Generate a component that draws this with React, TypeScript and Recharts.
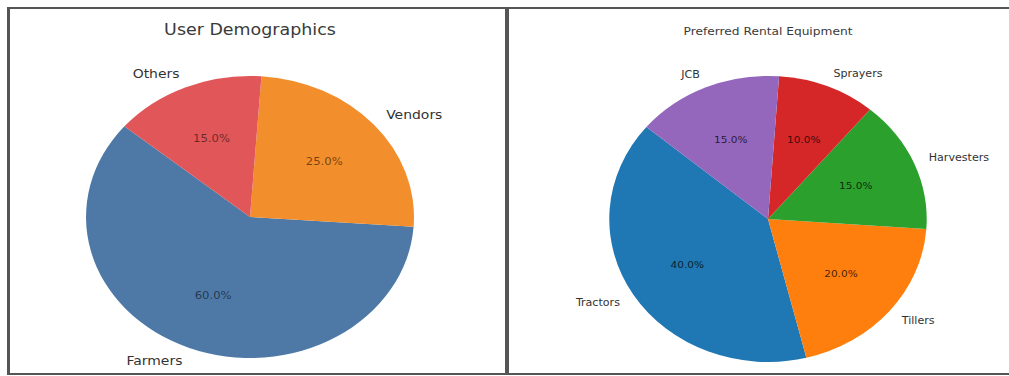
import React from 'react';
import { PieChart, Pie, Cell } from 'recharts';

const userLabels = ['Farmers', 'Vendors', 'Others'];
const userValues = [60, 25, 15];
const userColors = ['#4e79a7', '#f28e2b', '#e15759'];

const equipLabels = ['Tractors', 'Tillers', 'Harvesters', 'Sprayers', 'JCB'];
const equipValues = [40, 20, 15, 10, 15];
const equipColors = ['#1f77b4', '#ff7f0e', '#2ca02c', '#d62728', '#9467bd'];

const RADIAN = Math.PI / 180;
const FONT = '"DejaVu Sans", sans-serif';

type PanelProps = {
  labels: string[];
  values: number[];
  colors: string[];
  left: number;
  top: number;
  width: number;
  height: number;
  cx: number;
  cy: number;
  r: number;
  sx: number;
  title: string;
  titleY: number;
  titleSize: number;
  labelSize: number;
  pctSize: number;
  pctColor: string;
};

const PiePanel: React.FC<PanelProps> = ({
  labels, values, colors, left, top, width, height,
  cx, cy, r, sx, title, titleY, titleSize, labelSize, pctSize, pctColor,
}) => {
  const data = labels.map((name, i) => ({ name, value: values[i] }));
  const total = values.reduce((a, b) => a + b, 0);

  // matplotlib style: name at 1.1 r, percent at 0.6 r
  const renderLabel = (p: any) => {
    const a = -p.midAngle * RADIAN;
    const lx = cx + r * 1.1 * Math.cos(a);
    const ly = cy + r * 1.1 * Math.sin(a);
    const px = cx + r * 0.6 * Math.cos(a);
    const py = cy + r * 0.6 * Math.sin(a);
    return (
      <g>
        <text x={lx} y={ly} textAnchor={Math.cos(a) >= 0 ? 'start' : 'end'}
          dominantBaseline="central" fontSize={labelSize} fill="#333" fontFamily={FONT}>
          {p.name}
        </text>
        <text x={px} y={py} textAnchor="middle" dominantBaseline="central"
          fontSize={pctSize} fill={pctColor} fontFamily={FONT}>
          {((p.value / total) * 100).toFixed(1)}%
        </text>
      </g>
    );
  };

  return (
    <div style={{ position: 'absolute', left, top, width, height }}>
      <div style={{
        position: 'absolute', left: cx - 200, width: 400, top: titleY - titleSize * 0.6,
        textAlign: 'center', fontSize: titleSize, color: '#3a3a3a', lineHeight: 1.2,
        transform: `scaleX(${sx})`, fontFamily: FONT,
      }}>
        {title}
      </div>
      <div style={{
        position: 'absolute', left: 0, top: 0,
        transform: `scaleX(${sx})`, transformOrigin: `${cx}px ${cy}px`,
      }}>
        <PieChart width={width} height={height} margin={{ top: 0, right: 0, bottom: 0, left: 0 }}>
          <Pie
            data={data}
            dataKey="value"
            nameKey="name"
            cx={cx}
            cy={cy}
            outerRadius={r}
            startAngle={140}
            endAngle={500}
            stroke="none"
            label={renderLabel}
            labelLine={false}
            isAnimationActive={false}
          >
            {data.map((d, i) => <Cell key={d.name} fill={colors[i]} />)}
          </Pie>
        </PieChart>
      </div>
    </div>
  );
};

export default function App() {
  return (
    <div style={{ position: 'relative', width: 1009, height: 376, overflow: 'hidden', background: '#fff' }}>
      <style>{'body{margin:0}'}</style>
      <div style={{
        position: 'absolute', left: 7, top: 7, width: 1010, height: 364,
        borderTop: '2px solid #555', borderLeft: '3px solid #555', borderBottom: '2px solid #555',
      }} />
      <div style={{ position: 'absolute', left: 505, top: 7, width: 4, height: 368, background: '#555' }} />

      <PiePanel
        labels={userLabels} values={userValues} colors={userColors}
        left={10} top={9} width={495} height={364}
        cx={240} cy={208} r={141} sx={1.163}
        title="User Demographics" titleY={21} titleSize={15}
        labelSize={12} pctSize={10} pctColor="rgba(0,0,0,0.55)"
      />
      <PiePanel
        labels={equipLabels} values={equipValues} colors={equipColors}
        left={509} top={9} width={500} height={364}
        cx={259} cy={210} r={143} sx={1.11}
        title="Preferred Rental Equipment" titleY={23} titleSize={11}
        labelSize={10} pctSize={9.5} pctColor="rgba(0,0,0,0.75)"
      />
    </div>
  );
}
